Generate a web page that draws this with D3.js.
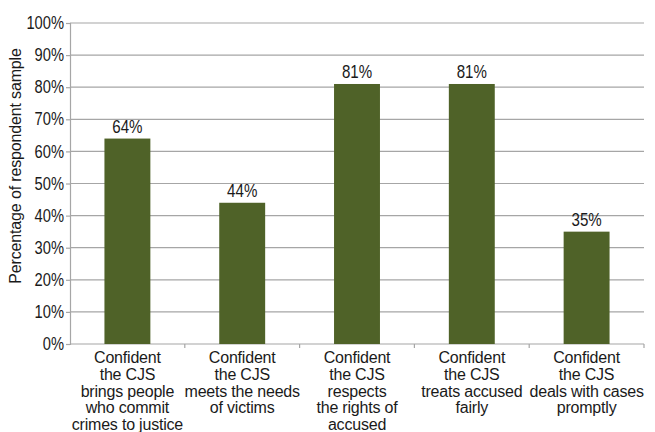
<!DOCTYPE html>
<html>
<head>
<meta charset="utf-8">
<script src="https://cdn.jsdelivr.net/npm/d3@7/dist/d3.min.js"></script>
<style>
  html, body { margin: 0; padding: 0; background: #ffffff; }
  svg { display: block; font-family: "Liberation Sans", Arial, sans-serif; }
</style>
</head>
<body>
<svg id="chart" width="655" height="432"></svg>
<script>
// Confidence in the criminal justice system (CJS)
const categories = [
  "Confident\nthe CJS\nbrings people\nwho commit\ncrimes to justice",
  "Confident\nthe CJS\nmeets the needs\nof victims",
  "Confident\nthe CJS\nrespects\nthe rights of\naccused",
  "Confident\nthe CJS\ntreats accused\nfairly",
  "Confident\nthe CJS\ndeals with cases\npromptly"
];
const values = [64, 44, 81, 81, 35];
const yTicks = [0, 10, 20, 30, 40, 50, 60, 70, 80, 90, 100];
const yTitle = "Percentage of respondent sample";

const svg = d3.select("#chart");
const plotLeft = 70, plotRight = 644, plotTop = 23, plotBottom = 344;

const x = d3.scaleBand().domain(categories).range([plotLeft, plotRight]).paddingInner(0.6).paddingOuter(0.3);
const xBand = d3.scaleBand().domain(categories).range([plotLeft, plotRight]);
const y = d3.scaleLinear().domain([0, 100]).range([plotBottom, plotTop]);

const gridColor = "#a6a6a6";
const textColor = "#1a1a1a";
const condense = 0.84; // horizontal squeeze for the numeric labels

// horizontal gridlines
svg.append("g")
  .selectAll("line")
  .data(yTicks.filter(d => d > 0))
  .join("line")
  .attr("x1", plotLeft).attr("x2", plotRight)
  .attr("y1", d => y(d)).attr("y2", d => y(d))
  .attr("stroke", gridColor).attr("stroke-width", 1.2);

// y axis
const yAxis = svg.append("g")
  .attr("transform", `translate(${plotLeft},0)`)
  .call(d3.axisLeft(y).tickValues(yTicks).tickSize(4).tickPadding(3).tickFormat(d => d + "%"));
yAxis.attr("font-family", null);
yAxis.select(".domain").attr("stroke", gridColor).attr("stroke-width", 1.2);
yAxis.selectAll(".tick line").attr("stroke", gridColor).attr("stroke-width", 1.2);
yAxis.selectAll(".tick text")
  .attr("x", 0)
  .attr("transform", `translate(-6,0) scale(${condense},1)`)
  .attr("fill", textColor)
  .style("font-size", "17.5px");

// x axis line and category boundary ticks
svg.append("line")
  .attr("x1", plotLeft).attr("x2", plotRight)
  .attr("y1", plotBottom).attr("y2", plotBottom)
  .attr("stroke", gridColor).attr("stroke-width", 1.2);
svg.append("g")
  .selectAll("line")
  .data(categories)
  .join("line")
  .attr("x1", d => xBand(d) + xBand.bandwidth())
  .attr("x2", d => xBand(d) + xBand.bandwidth())
  .attr("y1", plotBottom).attr("y2", plotBottom + 4)
  .attr("stroke", gridColor).attr("stroke-width", 1.2);

// bars
svg.append("g")
  .selectAll("rect")
  .data(values)
  .join("rect")
  .attr("x", (d, i) => x(categories[i]))
  .attr("width", x.bandwidth())
  .attr("y", d => y(d))
  .attr("height", d => y(0) - y(d))
  .attr("fill", "#4f6228");

// value labels
svg.append("g")
  .selectAll("text")
  .data(values)
  .join("text")
  .attr("transform", (d, i) =>
    `translate(${x(categories[i]) + x.bandwidth() / 2},${y(d) - 6}) scale(${condense},1)`)
  .attr("text-anchor", "middle")
  .attr("fill", textColor)
  .style("font-size", "18px")
  .text(d => d + "%");

// category labels
const catG = svg.append("g");
categories.forEach(c => {
  const cx = xBand(c) + xBand.bandwidth() / 2;
  const t = catG.append("text")
    .attr("x", cx)
    .attr("y", 363)
    .attr("text-anchor", "middle")
    .attr("fill", textColor)
    .style("font-size", "16px")
    .style("letter-spacing", "-0.2px");
  c.split("\n").forEach((line, i) => {
    t.append("tspan")
      .attr("x", cx)
      .attr("dy", i === 0 ? 0 : 16.8)
      .text(line);
  });
});

// y axis title
svg.append("text")
  .attr("transform", "translate(21,166) rotate(-90)")
  .attr("text-anchor", "middle")
  .attr("fill", textColor)
  .style("font-size", "16px")
  .style("letter-spacing", "-0.15px")
  .text(yTitle);
</script>
</body>
</html>
